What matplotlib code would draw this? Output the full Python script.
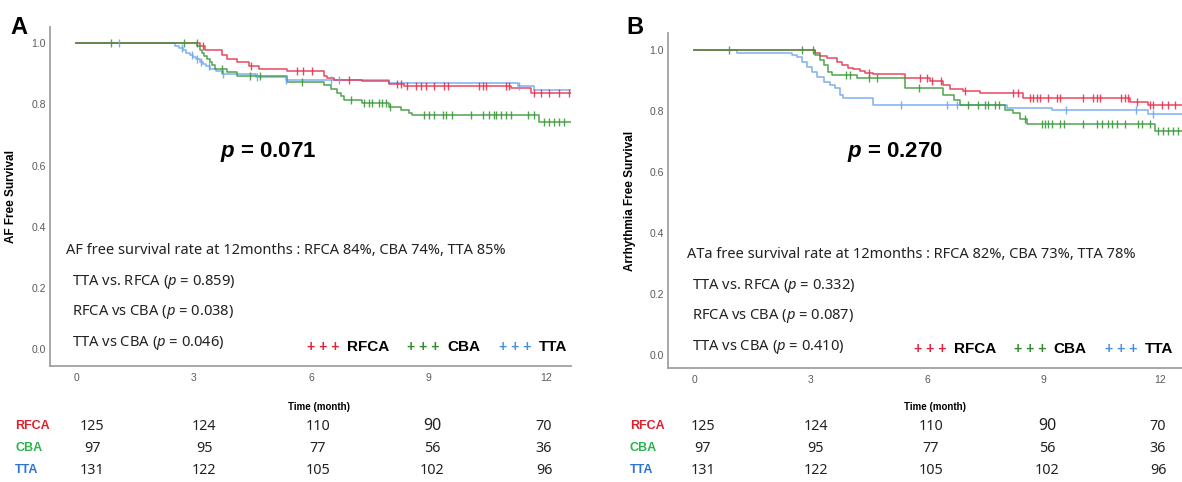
import numpy as np
import matplotlib
matplotlib.use("Agg")
import matplotlib.pyplot as plt
from matplotlib.transforms import blended_transform_factory

plt.rcParams['font.family'] = ['Noto Sans', 'DejaVu Sans']
plt.rcParams['mathtext.fontset'] = 'custom'
plt.rcParams['mathtext.rm'] = 'Noto Sans'
plt.rcParams['mathtext.it'] = 'Noto Sans:italic'
plt.rcParams['mathtext.bf'] = 'Liberation Sans:bold'
plt.rcParams['mathtext.bfit'] = 'Liberation Sans:italic:bold'

BOLD = ["Liberation Sans", "DejaVu Sans"]
NARROW = ["Liberation Sans Narrow", "Liberation Sans"]

# ── Panel A: AF free survival (step change points) ───────────────────────
A_rfca_t = [0, 3.17, 3.30, 3.73, 3.86, 4.11, 4.41, 4.67, 5.39, 6.33, 6.41, 6.58,
            7.31, 7.99, 8.37, 11.10, 11.62]
A_rfca_s = [1.0, 0.990, 0.978, 0.962, 0.950, 0.937, 0.924, 0.917, 0.910, 0.893,
            0.886, 0.880, 0.875, 0.867, 0.860, 0.853, 0.837]
A_rfca_cens = [3.24, 4.48, 5.63, 5.80, 6.03, 6.97, 8.20, 8.29, 8.46, 8.67, 8.80,
               8.93, 9.14, 9.40, 9.49, 10.29, 10.38, 10.47, 10.98, 11.06, 11.70,
               11.87, 12.09, 12.34, 12.60]

A_cba_t = [0, 3.10, 3.16, 3.22, 3.28, 3.35, 3.42, 3.48, 3.55, 3.86, 4.11, 5.39,
           6.33, 6.50, 6.67, 6.76, 6.84, 7.31, 7.99, 8.29, 8.50, 8.59, 11.83]
A_cba_s = [1.0, 0.990, 0.979, 0.969, 0.959, 0.948, 0.938, 0.928, 0.917, 0.905,
           0.893, 0.873, 0.862, 0.850, 0.838, 0.826, 0.815, 0.806, 0.793, 0.782,
           0.771, 0.766, 0.744]
A_cba_cens = [0.90, 2.76, 3.08, 3.73, 4.44, 4.70, 5.76, 7.01, 7.35, 7.48, 7.57,
              7.74, 7.82, 7.91, 8.03, 8.89, 9.02, 9.14, 9.36, 9.44, 9.61, 10.08,
              10.38, 10.55, 10.68, 10.72, 10.85, 10.98, 11.11, 11.53, 11.70,
              11.96, 12.09, 12.21, 12.34, 12.47]

A_tta_t = [0, 2.53, 2.62, 2.72, 2.81, 2.90, 2.99, 3.07, 3.16, 3.25, 3.33, 3.42,
           3.58, 3.73, 4.60, 5.35, 8.00, 11.28, 11.70]
A_tta_s = [1.0, 0.992, 0.985, 0.977, 0.969, 0.962, 0.954, 0.947, 0.939, 0.931,
           0.924, 0.916, 0.908, 0.898, 0.888, 0.880, 0.871, 0.860, 0.846]
A_tta_cens = [1.10, 2.70, 2.95, 3.10, 3.20, 3.40, 3.75, 4.62, 5.37, 6.50, 6.71, 11.32]

# ── Panel B: arrhythmia free survival ────────────────────────────────────
B_rfca_t = [0, 3.11, 3.24, 3.41, 3.67, 3.80, 3.97, 4.10, 4.27, 4.40, 4.61, 5.43,
            6.07, 6.42, 6.59, 6.93, 7.36, 8.48, 11.23, 11.70]
B_rfca_s = [1.0, 0.992, 0.981, 0.975, 0.962, 0.951, 0.942, 0.937, 0.931, 0.926,
            0.920, 0.907, 0.898, 0.885, 0.871, 0.867, 0.858, 0.842, 0.831, 0.820]
B_rfca_cens = [4.51, 5.82, 5.99, 6.12, 6.37, 6.98, 8.22, 8.35, 8.65, 8.74, 8.82,
               8.91, 9.12, 9.34, 9.43, 10.03, 10.28, 10.37, 10.46, 11.01, 11.10,
               11.19, 11.40, 11.74, 11.83, 12.05, 12.22, 12.40]

B_cba_t = [0, 3.10, 3.24, 3.33, 3.45, 3.54, 4.19, 5.43, 6.42, 6.68, 6.85, 8.01,
           8.22, 8.39, 8.57, 11.87]
B_cba_s = [1.0, 0.984, 0.967, 0.951, 0.929, 0.918, 0.907, 0.876, 0.852, 0.836,
           0.820, 0.803, 0.792, 0.773, 0.757, 0.734]
B_cba_cens = [0.90, 2.77, 3.07, 3.90, 4.00, 4.51, 4.70, 5.80, 7.06, 7.32, 7.49,
              7.58, 7.75, 7.84, 8.52, 8.95, 9.04, 9.12, 9.21, 9.43, 9.52, 10.03,
              10.37, 10.50, 10.67, 10.76, 10.89, 11.10, 11.44, 11.53, 11.74,
              11.96, 12.09, 12.22, 12.35, 12.47]

B_tta_t = [0, 1.09, 2.51, 2.64, 2.77, 2.90, 3.03, 3.15, 3.33, 3.50, 3.63, 3.76,
           3.84, 4.61, 8.05, 9.21, 11.70]
B_tta_s = [1.0, 0.992, 0.984, 0.976, 0.962, 0.945, 0.929, 0.912, 0.896, 0.885,
           0.874, 0.852, 0.844, 0.820, 0.809, 0.803, 0.790]
B_tta_cens = [5.33, 6.50, 6.78, 9.58, 11.38, 11.83]

# ── Risk table / labels ──────────────────────────────────────────────────
groups = ["RFCA", "CBA", "TTA"]
at_risk = {"RFCA": [125, 124, 110, 90, 70],
           "CBA": [97, 95, 77, 56, 36],
           "TTA": [131, 122, 105, 102, 96]}
xticks = [0, 3, 6, 9, 12]
yticks = [0.0, 0.2, 0.4, 0.6, 0.8, 1.0]

A_rate = "AF free survival rate at 12months : RFCA 84%, CBA 74%, TTA 85%"
A_pairs = [("TTA vs. RFCA", "0.859"), ("RFCA vs CBA", "0.038"), ("TTA vs CBA", "0.046")]
A_p = "0.071"
B_rate = "ATa free survival rate at 12months : RFCA 82%, CBA 73%, TTA 78%"
B_pairs = [("TTA vs. RFCA", "0.332"), ("RFCA vs CBA", "0.087"), ("TTA vs CBA", "0.410")]
B_p = "0.270"

line_col = {"RFCA": "#e8334f", "CBA": "#3d9a3d", "TTA": "#70a8ee"}
leg_col = {"RFCA": "#e3213a", "CBA": "#2e8b2e", "TTA": "#4a8ee0"}
row_col = {"RFCA": "#e0202a", "CBA": "#2ab34c", "TTA": "#2f74d0"}

W, H = 1182, 482
fig = plt.figure(figsize=(W / 100, H / 100), dpi=100)


def fx(x):
    return x / W


def fy(y):
    return 1 - y / H


def km(ax, t, s, cens, col, tend):
    t = np.asarray(t, float)
    s = np.asarray(s, float)
    ax.step(np.append(t, tend), np.append(s, s[-1]), where="post",
            color=col, lw=1.1, alpha=0.9, zorder=3)
    c = np.asarray(cens, float)
    cs = s[np.searchsorted(t, c, side="right") - 1]
    ax.plot(c, cs, ls="none", marker="|", ms=6, mew=1.0, color=col, alpha=0.9,
            zorder=4)


def style_axes(ax, xlim, ylim, ylabel, ylab_x):
    ax.set_xlim(*xlim)
    ax.set_ylim(*ylim)
    for side in ("top", "right"):
        ax.spines[side].set_visible(False)
    for side in ("left", "bottom"):
        ax.spines[side].set_color("#a0a0a0")
        ax.spines[side].set_linewidth(1.3)
    ax.set_xticks(xticks)
    ax.set_yticks(yticks)
    ax.set_yticklabels([f"{v:.1f}" for v in yticks])
    ax.tick_params(length=0, labelsize=7.5, labelcolor="#5a5a5a")
    ax.tick_params(axis="y", pad=3)
    ax.tick_params(axis="x", pad=5)
    for lab in ax.get_xticklabels() + ax.get_yticklabels():
        lab.set_family(NARROW)
    ax.set_ylabel(ylabel, fontsize=8.5, fontweight="bold", family=BOLD)
    ax.yaxis.set_label_coords(fx(ylab_x), 0.5,
                              transform=blended_transform_factory(fig.transFigure, ax.transAxes))


def panel(ax, data, xlim, ylim, ylabel, letter, lx, ly, ylab_x,
          ptxt, p_xy, rate, rate_xy, pairs, pair_x, pair_y, leg_y, leg_x,
          col_t, time_xy, row_y, row_lab_x):
    for g in ("TTA", "RFCA", "CBA"):
        t, s, c = data[g]
        km(ax, t, s, c, line_col[g], 12.64)
    style_axes(ax, xlim, ylim, ylabel, ylab_x)

    fig.text(fx(lx), fy(ly), letter, fontsize=17, fontweight="bold",
             family=BOLD, ha="left", va="center")
    fig.text(fx(p_xy[0]), fy(p_xy[1]), r"$\mathbfit{p}$ = " + ptxt,
             fontsize=16, fontweight="bold", family=BOLD, ha="center", va="center")
    fig.text(fx(rate_xy[0]), fy(rate_xy[1]), rate, fontsize=10.5,
             ha="left", va="center", color="#222222")
    for (name, pv), y in zip(pairs, pair_y):
        fig.text(fx(pair_x), fy(y), name + r" ($p$ = " + pv + ")",
                 fontsize=10.6, ha="left", va="center", color="#222222")
    for g, (x1, x2) in zip(groups, leg_x):
        fig.text(fx(x1), fy(leg_y), "+ + +", fontsize=10, fontweight="bold",
                 family=BOLD, color=leg_col[g], ha="left", va="center")
        fig.text(fx(x2), fy(leg_y), g, fontsize=11, fontweight="bold",
                 family=BOLD, color="black", ha="left", va="center")

    fig.text(fx(time_xy[0]), fy(time_xy[1]), "Time (month)", fontsize=7,
             fontweight="bold", family=NARROW, ha="center", va="center")
    tr = blended_transform_factory(ax.transData, fig.transFigure)
    for g, y in zip(groups, row_y):
        fig.text(fx(row_lab_x), fy(y), g, fontsize=9, fontweight="bold",
                 family=BOLD, color=row_col[g], ha="left", va="center")
        for n, xt in zip(at_risk[g], col_t):
            ax.text(xt, fy(y), str(n), transform=tr, fontsize=11.5 if n == 90 else 10.3,
                    ha="center", va="center", color="#222222", clip_on=False)


axA = fig.add_axes([fx(50), fy(366), fx(521), (366 - 26.7) / H])
axB = fig.add_axes([fx(668), fy(368.3), fx(W - 668), (368.3 - 33.3) / H])

panel(axA,
      {"RFCA": (A_rfca_t, A_rfca_s, A_rfca_cens),
       "CBA": (A_cba_t, A_cba_s, A_cba_cens),
       "TTA": (A_tta_t, A_tta_s, A_tta_cens)},
      (-0.665, 12.64), (-0.055, 1.054), "AF Free Survival", "A", 10, 28, 17.5,
      A_p, (268, 152), A_rate, (66, 250), A_pairs, 72, [282, 312, 343], 347,
      [(307, 347), (407, 447), (499, 539)],
      [0.42, 3.27, 6.17, 9.10, 11.95], (319, 407), [426, 448, 470], 15)

panel(axB,
      {"RFCA": (B_rfca_t, B_rfca_s, B_rfca_cens),
       "CBA": (B_cba_t, B_cba_s, B_cba_cens),
       "TTA": (B_tta_t, B_tta_s, B_tta_cens)},
      (-0.68, 12.57), (-0.044, 1.055), "Arrhythmia Free Survival", "B", 626, 27, 636,
      B_p, (895, 152), B_rate, (687, 255), B_pairs, 692, [286, 316, 347], 349,
      [(914, 954), (1014, 1053), (1105, 1145)],
      [0.22, 3.13, 6.10, 9.10, 11.95], (935, 407), [426, 448, 470], 630)

fig.savefig("out.png", dpi=100)
